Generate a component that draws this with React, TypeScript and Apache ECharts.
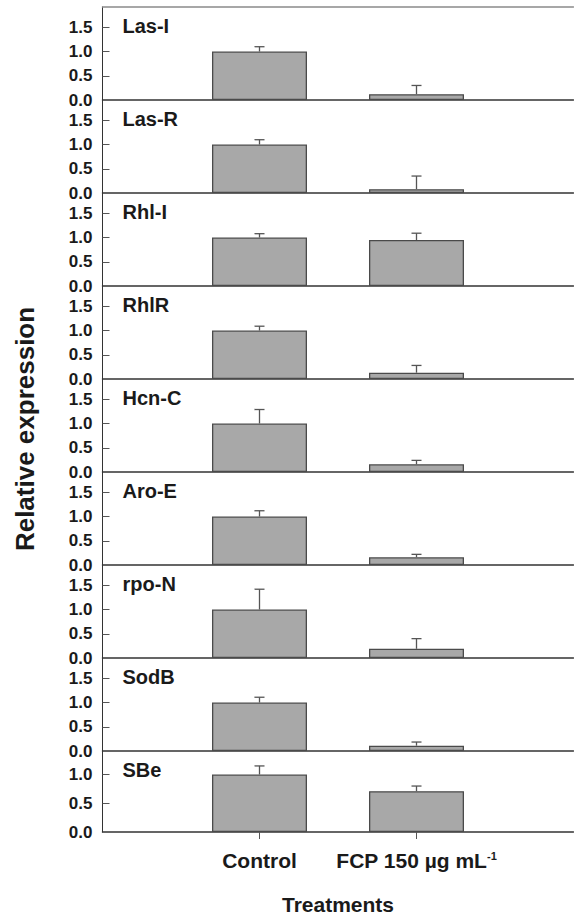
import React, { useEffect, useRef } from "react";
import * as echarts from "echarts";

const genes = ["Las-I", "Las-R", "Rhl-I", "RhlR", "Hcn-C", "Aro-E", "rpo-N", "SodB", "SBe"];
const categories = ["", "Control", "FCP 150 µg mL", ""];
const controlMean = [1.0, 1.0, 1.0, 1.0, 1.0, 1.0, 1.0, 1.0, 1.0];
const controlErr = [0.1, 0.1, 0.08, 0.09, 0.29, 0.12, 0.42, 0.11, 0.15];
const fcpMean = [0.12, 0.08, 0.95, 0.13, 0.16, 0.16, 0.19, 0.11, 0.71];
const fcpErr = [0.18, 0.27, 0.14, 0.15, 0.08, 0.06, 0.21, 0.075, 0.09];
const yMax = [1.92, 1.92, 1.92, 1.92, 1.92, 1.92, 1.92, 1.92, 1.41];
const yTicks = [
  [0, 0.5, 1.0, 1.5],
  [0, 0.5, 1.0, 1.5],
  [0, 0.5, 1.0, 1.5],
  [0, 0.5, 1.0, 1.5],
  [0, 0.5, 1.0, 1.5],
  [0, 0.5, 1.0, 1.5],
  [0, 0.5, 1.0, 1.5],
  [0, 0.5, 1.0, 1.5],
  [0, 0.5, 1.0],
];
const yTitle = "Relative expression";
const xTitle = "Treatments";

const FONT = '"Liberation Sans", Arial, Helvetica, sans-serif';
const TEXT = "#1a1a1a";
const AXIS = "#333333";

export default function App() {
  const ref = useRef<HTMLDivElement>(null);
  useEffect(() => {
    if (!ref.current) return;
    const chart = echarts.init(ref.current, null, { renderer: "svg" });
    const n = genes.length;
    const left = 102.5;
    const width = 471;
    const top0 = 7;
    const h = 93;

    const grids: any[] = [];
    const xAxes: any[] = [];
    const yAxes: any[] = [];
    const series: any[] = [];
    const graphics: any[] = [];

    for (let i = 0; i < n; i++) {
      const last = i === n - 1;
      grids.push({ left, width, top: top0 + h * i, height: h, containLabel: false });
      xAxes.push({
        type: "category",
        gridIndex: i,
        data: categories,
        boundaryGap: false,
        axisLine: { show: true, lineStyle: { color: AXIS, width: 1.5 } },
        axisTick: {
          show: last,
          inside: false,
          length: 7,
          interval: (idx: number) => idx === 1 || idx === 2,
          lineStyle: { color: "#555", width: 1 },
        },
        axisLabel: {
          show: last,
          interval: (idx: number) => idx === 1 || idx === 2,
          margin: 18,
          formatter: (v: string, idx: number) =>
            idx === 2 ? `{m|${v}}{s|-1}` : `{m|${v}}`,
          rich: {
            m: { fontFamily: FONT, fontWeight: "bold", fontSize: 21, lineHeight: 21, color: TEXT },
            s: { fontFamily: FONT, fontWeight: "bold", fontSize: 11, lineHeight: 11, color: TEXT, verticalAlign: "top" },
          },
        },
        splitLine: { show: false },
        name: last ? xTitle : "",
        nameLocation: "middle",
        nameGap: 62,
        nameTextStyle: { fontFamily: FONT, fontWeight: "bold", fontSize: 21, color: TEXT },
      });
      yAxes.push({
        type: "value",
        gridIndex: i,
        min: 0,
        max: yMax[i],
        interval: 0.5,
        axisLine: { show: true, lineStyle: { color: AXIS, width: 1 } },
        axisTick: {
          show: true,
          inside: true,
          length: 7,
          customValues: yTicks[i].filter((v) => v > 0),
          lineStyle: { color: "#555", width: 1 },
        },
        axisLabel: {
          customValues: yTicks[i],
          margin: 10,
          formatter: (v: number) => v.toFixed(1),
          fontFamily: FONT,
          fontWeight: "bold",
          fontSize: 17,
          color: TEXT,
        },
        splitLine: { show: false },
      });
      series.push({
        type: "bar",
        xAxisIndex: i,
        yAxisIndex: i,
        barWidth: 95,
        data: ["-", controlMean[i], fcpMean[i], "-"],
        itemStyle: { color: "#a8a8a8", borderColor: "#4a4a4a", borderWidth: 1.3 },
        z: 2,
      });
      series.push({
        type: "custom",
        xAxisIndex: i,
        yAxisIndex: i,
        z: 3,
        data: [
          [1, controlMean[i], controlMean[i] + controlErr[i]],
          [2, fcpMean[i], fcpMean[i] + fcpErr[i]],
        ],
        renderItem: (params: any, api: any) => {
          const x = api.value(0);
          const p0 = api.coord([x, api.value(1)]);
          const p1 = api.coord([x, api.value(2)]);
          const st = { stroke: "#555", lineWidth: 1.3 };
          return {
            type: "group",
            children: [
              { type: "line", shape: { x1: p0[0], y1: p0[1], x2: p1[0], y2: p1[1] }, style: st },
              { type: "line", shape: { x1: p1[0] - 5, y1: p1[1], x2: p1[0] + 5, y2: p1[1] }, style: st },
            ],
          };
        },
      });
      graphics.push({
        type: "text",
        left: 122.5,
        top: top0 + h * i + 9,
        style: { text: genes[i], fontFamily: FONT, fontWeight: "bold", fontSize: 20, fill: TEXT },
        z: 10,
      });
    }

    // top border of the stacked frame
    xAxes.push({
      type: "category",
      gridIndex: 0,
      position: "top",
      data: categories,
      boundaryGap: false,
      axisLine: { show: true, lineStyle: { color: "#8a8a8a", width: 1.5 } },
      axisTick: { show: false },
      axisLabel: { show: false },
    });

    graphics.push({
      type: "text",
      x: 25,
      y: 429,
      rotation: Math.PI / 2,
      style: {
        text: yTitle,
        fontFamily: FONT,
        fontWeight: "bold",
        fontSize: 26,
        fill: TEXT,
        align: "center",
        verticalAlign: "middle",
      },
    });

    chart.setOption({
      animation: false,
      backgroundColor: "#ffffff",
      grid: grids,
      xAxis: xAxes,
      yAxis: yAxes,
      series,
      graphic: graphics,
    });
    return () => chart.dispose();
  }, []);
  return (
    <div
      ref={ref}
      style={{ position: "fixed", left: 0, top: 0, width: 574, height: 916, background: "#fff" }}
    />
  );
}
